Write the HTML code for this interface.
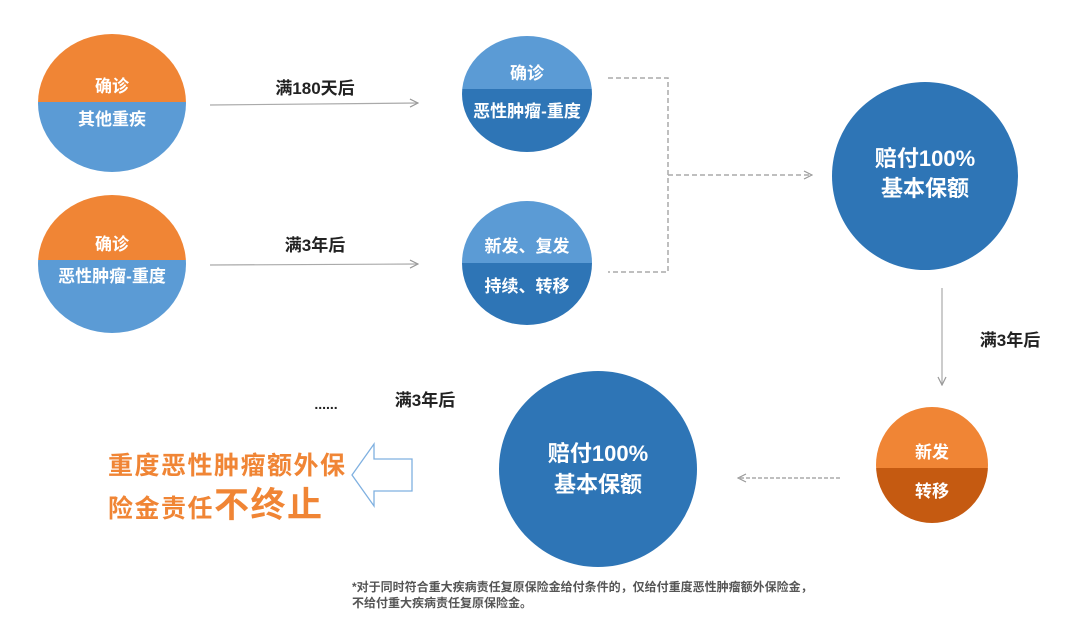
<!DOCTYPE html>
<html><head><meta charset="utf-8"><style>
body{margin:0;background:#fff;}
svg{display:block;}
text{font-family:"Liberation Sans","Noto Sans CJK SC",sans-serif;font-weight:bold;}
</style></head><body>
<svg width="1080" height="621" viewBox="0 0 1080 621" xmlns="http://www.w3.org/2000/svg">
<defs>
<clipPath id="c1"><ellipse cx="112" cy="103" rx="74" ry="69"/></clipPath>
<clipPath id="c2"><ellipse cx="112" cy="264" rx="74" ry="69"/></clipPath>
<clipPath id="c3"><ellipse cx="527" cy="94" rx="65" ry="58"/></clipPath>
<clipPath id="c4"><ellipse cx="527" cy="263" rx="65" ry="62"/></clipPath>
<clipPath id="c5"><ellipse cx="932" cy="465" rx="56" ry="58"/></clipPath>
<marker id="ah" markerWidth="10" markerHeight="10" refX="9" refY="5" orient="auto" markerUnits="userSpaceOnUse"><path d="M1,1 L9,5 L1,9" fill="none" stroke="#999" stroke-width="1.2"/></marker>
</defs>
<g clip-path="url(#c1)"><rect x="30" y="30" width="170" height="72" fill="#f08535"/><rect x="30" y="102" width="170" height="80" fill="#5b9bd5"/></g>
<text x="112" y="92" fill="#fff" font-size="17" text-anchor="middle">确诊</text>
<text x="112" y="125" fill="#fff" font-size="17" text-anchor="middle">其他重疾</text>
<g clip-path="url(#c2)"><rect x="30" y="190" width="170" height="70" fill="#f08535"/><rect x="30" y="260" width="170" height="80" fill="#5b9bd5"/></g>
<text x="112" y="250" fill="#fff" font-size="17" text-anchor="middle">确诊</text>
<text x="112" y="282" fill="#fff" font-size="17" text-anchor="middle">恶性肿瘤-重度</text>
<g clip-path="url(#c3)"><rect x="455" y="30" width="150" height="59" fill="#5b9bd5"/><rect x="455" y="89" width="150" height="70" fill="#2e75b6"/></g>
<text x="527" y="79" fill="#fff" font-size="17" text-anchor="middle">确诊</text>
<text x="527" y="117" fill="#fff" font-size="17" text-anchor="middle">恶性肿瘤-重度</text>
<g clip-path="url(#c4)"><rect x="455" y="195" width="150" height="68" fill="#5b9bd5"/><rect x="455" y="263" width="150" height="70" fill="#2e75b6"/></g>
<text x="527" y="252" fill="#fff" font-size="17" text-anchor="middle">新发、复发</text>
<text x="527" y="292" fill="#fff" font-size="17" text-anchor="middle">持续、转移</text>
<line x1="210" y1="105" x2="418" y2="103" stroke="#aaa" stroke-width="1.2" marker-end="url(#ah)"/>
<text x="315" y="94" fill="#222" font-size="17" text-anchor="middle">满180天后</text>
<line x1="210" y1="265" x2="418" y2="264" stroke="#aaa" stroke-width="1.2" marker-end="url(#ah)"/>
<text x="315" y="251" fill="#222" font-size="17" text-anchor="middle">满3年后</text>
<path d="M608,78 L668,78 L668,272 L608,272" fill="none" stroke="#aaa" stroke-width="1.5" stroke-dasharray="5,3"/>
<line x1="668" y1="175" x2="812" y2="175" stroke="#aaa" stroke-width="1.5" stroke-dasharray="5,3" marker-end="url(#ah)"/>
<ellipse cx="925" cy="176" rx="93" ry="94" fill="#2e75b6"/>
<text x="925" y="166" fill="#fff" font-size="22" text-anchor="middle">赔付100%</text>
<text x="925" y="196" fill="#fff" font-size="22" text-anchor="middle">基本保额</text>
<line x1="942" y1="288" x2="942" y2="385" stroke="#aaa" stroke-width="1.2" marker-end="url(#ah)"/>
<text x="1010" y="346" fill="#222" font-size="17" text-anchor="middle">满3年后</text>
<g clip-path="url(#c5)"><rect x="870" y="400" width="130" height="68" fill="#f08535"/><rect x="870" y="468" width="130" height="70" fill="#c55a11"/></g>
<text x="932" y="458" fill="#fff" font-size="17" text-anchor="middle">新发</text>
<text x="932" y="497" fill="#fff" font-size="17" text-anchor="middle">转移</text>
<line x1="840" y1="478" x2="738" y2="478" stroke="#aaa" stroke-width="1.5" stroke-dasharray="4,2" marker-end="url(#ah)"/>
<ellipse cx="598" cy="469" rx="99" ry="98" fill="#2e75b6"/>
<text x="598" y="461" fill="#fff" font-size="22" text-anchor="middle">赔付100%</text>
<text x="598" y="492" fill="#fff" font-size="22" text-anchor="middle">基本保额</text>
<path d="M352,475 L374,444 L374,459 L412,459 L412,491 L374,491 L374,506 Z" fill="#fff" stroke="#7fb0e0" stroke-width="1.3"/>
<text x="326" y="409" fill="#222" font-size="14" text-anchor="middle">......</text>
<text x="425" y="406" fill="#222" font-size="17" text-anchor="middle">满3年后</text>
<text x="108" y="474" fill="#f08535" font-size="25" letter-spacing="1.5">重度恶性肿瘤额外保</text>
<text x="108" y="517" fill="#f08535" font-size="25" letter-spacing="1.5">险金责任<tspan font-size="35">不终止</tspan></text>
<text x="352" y="591" fill="#555" font-size="12" font-weight="normal">*对于同时符合重大疾病责任复原保险金给付条件的，仅给付重度恶性肿瘤额外保险金，</text>
<text x="352" y="607" fill="#555" font-size="12" font-weight="normal">不给付重大疾病责任复原保险金。</text>
</svg>
</body></html>
